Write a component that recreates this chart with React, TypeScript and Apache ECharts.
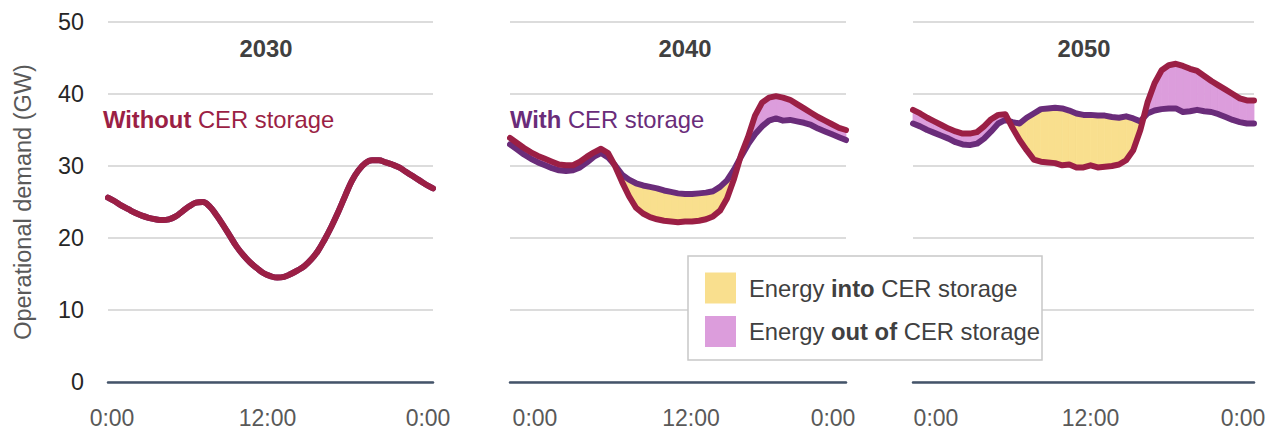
import React, { useEffect, useRef } from "react";
import * as echarts from "echarts";

const FONT = '"Liberation Sans", Arial, Helvetica, sans-serif';

// Half-hourly operational demand (GW), 0:00 .. 24:00
const without2030 = [
  25.6, 25.1, 24.5, 24.0, 23.5, 23.1, 22.8, 22.6, 22.5, 22.6, 23.0, 23.7, 24.4, 24.9, 25.0, 24.4,
  23.2, 21.8, 20.3, 18.8, 17.6, 16.6, 15.8, 15.1, 14.7, 14.5, 14.6, 15.0, 15.5, 16.1, 17.0, 18.2,
  19.8, 21.6, 23.6, 25.8, 27.9, 29.4, 30.4, 30.8, 30.8, 30.5, 30.2, 29.8, 29.2, 28.6, 28.0, 27.4, 26.9,
];
const with2030 = without2030;

const without2040 = [
  33.9, 33.2, 32.5, 31.9, 31.4, 31.0, 30.6, 30.2, 30.1, 30.1, 30.6, 31.3, 31.9, 32.4, 31.8, 30.0,
  27.8, 25.8, 24.2, 23.4, 22.9, 22.6, 22.4, 22.3, 22.2, 22.3, 22.3, 22.4, 22.6, 23.0, 23.8, 25.5,
  28.2, 31.5, 34.0, 37.0, 38.8, 39.5, 39.7, 39.5, 39.2, 38.6, 38.0, 37.4, 36.8, 36.3, 35.8, 35.3, 35.0,
];
const with2040 = [
  33.0, 32.3, 31.6, 31.0, 30.5, 30.1, 29.7, 29.4, 29.3, 29.4, 29.8, 30.5, 31.3, 31.8, 31.2, 30.1,
  28.8, 28.1, 27.6, 27.3, 27.1, 26.9, 26.6, 26.4, 26.2, 26.1, 26.1, 26.2, 26.3, 26.5, 27.1, 28.0,
  29.5, 31.3, 33.0, 34.4, 35.5, 36.3, 36.6, 36.3, 36.4, 36.2, 36.0, 35.7, 35.2, 34.8, 34.4, 34.0, 33.6,
];

const without2050 = [
  37.8, 37.3, 36.7, 36.2, 35.7, 35.2, 34.8, 34.5, 34.5, 34.7, 35.5, 36.5, 37.1, 37.2, 35.3, 33.6,
  32.2, 30.9, 30.6, 30.5, 30.4, 30.1, 30.2, 29.8, 29.8, 30.1, 29.8, 29.9, 30.0, 30.2, 30.8, 32.2,
  35.0, 38.8, 41.5, 43.3, 44.0, 44.2, 43.9, 43.5, 43.2, 42.5, 41.8, 41.2, 40.6, 40.0, 39.4, 39.1, 39.1,
];
const with2050 = [
  35.9, 35.5, 35.0, 34.6, 34.2, 33.8, 33.3, 33.0, 32.9, 33.1, 33.8, 34.8, 35.9, 36.4, 36.1, 35.9,
  36.7, 37.3, 37.9, 38.0, 38.1, 38.0, 37.7, 37.3, 37.1, 37.1, 37.0, 37.0, 36.8, 36.7, 36.9, 36.6,
  36.2, 37.3, 37.7, 37.9, 38.0, 38.0, 37.5, 37.6, 37.8, 37.6, 37.5, 37.2, 36.8, 36.4, 36.1, 35.9, 35.9,
];

const years = ["2030", "2040", "2050"];
const withoutSeries = [without2030, without2040, without2050];
const withSeries = [with2030, with2040, with2050];
const tickLabels = ["0:00", "12:00", "0:00"];
const yAxisName = "Operational demand (GW)";
const legendItems = ["Energy {b|into} CER storage", "Energy {b|out of} CER storage"];

const RED = "#9B1F45";
const PURPLE = "#6A2C7A";
const YELLOW = "#F9DF8E";
const PINK = "#DC9DDC";
const HOURS_PER_SLOT = 0.5;

const grids = [
  { left: 108, top: 22, width: 325, height: 360 },
  { left: 510, top: 22, width: 336, height: 360 },
  { left: 913, top: 22, width: 341, height: 360 },
];
const labelShift = [
  [4, -3, -5],
  [25, 13, -13],
  [23, 7, -11],
];

function pad(shift: number) {
  return shift >= 0 ? [0, 0, 0, 2 * shift] : [0, -2 * shift, 0, 0];
}

const TXT = 23.8;

export default function App() {
  const ref = useRef<HTMLDivElement>(null);
  useEffect(() => {
    if (!ref.current) return;
    const chart = echarts.init(ref.current, null, { renderer: "svg" });

    const xAxis = grids.map((_, i) => ({
      type: "value",
      gridIndex: i,
      min: 0,
      max: 24,
      interval: 12,
      axisLine: { show: true, onZero: false, lineStyle: { color: "#44546A", width: 2.5 } },
      axisTick: { show: false },
      splitLine: { show: false },
      axisLabel: {
        margin: 24,
        formatter: (v: number) => (v === 0 ? "{a|" + tickLabels[0] + "}" : v === 12 ? "{b|" + tickLabels[1] + "}" : "{c|" + tickLabels[2] + "}"),
        rich: {
          a: { fontSize: 23, fontFamily: FONT, color: "#595959", padding: pad(labelShift[i][0]) },
          b: { fontSize: 23, fontFamily: FONT, color: "#595959", padding: pad(labelShift[i][1]) },
          c: { fontSize: 23, fontFamily: FONT, color: "#595959", padding: pad(labelShift[i][2]) },
        },
      },
    }));

    const yAxis = grids.map((_, i) => ({
      type: "value",
      gridIndex: i,
      min: 0,
      max: 50,
      interval: 10,
      name: i === 0 ? yAxisName : "",
      nameLocation: "middle",
      nameGap: 73,
      nameTextStyle: { fontSize: 23.5, fontFamily: FONT, color: "#595959" },
      axisLine: { show: false },
      axisTick: { show: false },
      axisLabel: { show: i === 0, margin: 24, fontSize: 23.3, fontFamily: FONT, color: "#262626" },
      splitLine: { lineStyle: { color: "#D0D0D0", width: 1.5 } },
    }));

    const series: any[] = [];
    grids.forEach((_, i) => {
      const red = withoutSeries[i];
      const pur = withSeries[i];
      if (i > 0) {
        const segs = red.slice(0, -1).map((r, k) => [
          k * HOURS_PER_SLOT, r, pur[k],
          (k + 1) * HOURS_PER_SLOT, red[k + 1], pur[k + 1],
        ]);
        series.push({
          type: "custom",
          xAxisIndex: i,
          yAxisIndex: i,
          z: 1,
          encode: { x: [0, 3], y: [1, 2, 4, 5] },
          data: segs,
          renderItem: (params: any, api: any) => {
            const x0 = api.value(0), r0 = api.value(1), p0 = api.value(2);
            const x1 = api.value(3), r1 = api.value(4), p1 = api.value(5);
            const A = api.coord([x0, r0]);
            const B = api.coord([x1, r1]);
            const C = api.coord([x1, p1]);
            const D = api.coord([x0, p0]);
            const d0 = p0 - r0;
            const d1 = p1 - r1;
            const col = (d: number) => (d > 0 ? YELLOW : PINK);
            const poly = (pts: number[][], c: string) => ({
              type: "polygon",
              shape: { points: pts },
              style: { fill: c, stroke: c, lineWidth: 0.8 },
            });
            if (d0 * d1 >= 0) {
              return poly([A, B, C, D], col(d0 !== 0 ? d0 : d1));
            }
            const t = d0 / (d0 - d1);
            const X = [A[0] + (B[0] - A[0]) * t, A[1] + (B[1] - A[1]) * t];
            return {
              type: "group",
              children: [poly([A, X, D], col(d0)), poly([X, B, C], col(d1))],
            };
          },
        });
      }
      const smooth = i === 0 ? 0.4 : false;
      series.push({
        type: "line",
        xAxisIndex: i,
        yAxisIndex: i,
        z: 2,
        data: pur.map((v, k) => [k * HOURS_PER_SLOT, v]),
        showSymbol: false,
        symbol: "none",
        smooth,
        lineStyle: { color: PURPLE, width: 6, cap: "round", join: "round" },
      });
      series.push({
        type: "line",
        xAxisIndex: i,
        yAxisIndex: i,
        z: 3,
        data: red.map((v, k) => [k * HOURS_PER_SLOT, v]),
        showSymbol: false,
        symbol: "none",
        smooth,
        lineStyle: { color: RED, width: 6, cap: "round", join: "round" },
      });
    });

    const titleX = [266, 685, 1084];
    const graphic: any[] = [];
    years.forEach((y, i) => {
      graphic.push({
        type: "text",
        x: titleX[i],
        y: 48,
        z: 10,
        style: {
          text: y,
          fill: "#404040",
          fontSize: TXT,
          fontWeight: "bold",
          fontFamily: FONT,
          align: "center",
          verticalAlign: "middle",
        },
      });
    });
    graphic.push({
      type: "text",
      x: 103,
      y: 119,
      z: 10,
      style: {
        text: "{b|Without} CER storage",
        fill: RED,
        fontSize: TXT,
        fontFamily: FONT,
        verticalAlign: "middle",
        rich: { b: { fill: RED, fontSize: TXT, fontFamily: FONT, fontWeight: "bold" } },
      },
    });
    graphic.push({
      type: "text",
      x: 510,
      y: 119,
      z: 10,
      style: {
        text: "{b|With} CER storage",
        fill: PURPLE,
        fontSize: TXT,
        fontFamily: FONT,
        verticalAlign: "middle",
        rich: { b: { fill: PURPLE, fontSize: TXT, fontFamily: FONT, fontWeight: "bold" } },
      },
    });
    graphic.push({
      type: "rect",
      z: 10,
      shape: { x: 688, y: 256, width: 354, height: 104 },
      style: { fill: "#FFFFFF", stroke: "#C8C8C8", lineWidth: 1.5 },
    });
    const swatchColors = [YELLOW, PINK];
    const rowY = [288, 331.5];
    legendItems.forEach((t, k) => {
      graphic.push({
        type: "rect",
        z: 11,
        shape: { x: 705, y: rowY[k] - 15.5, width: 31, height: 31 },
        style: { fill: swatchColors[k] },
      });
      graphic.push({
        type: "text",
        x: 749,
        y: rowY[k],
        z: 11,
        style: {
          text: t,
          fill: "#404040",
          fontSize: TXT,
          fontFamily: FONT,
          verticalAlign: "middle",
          rich: { b: { fill: "#404040", fontSize: TXT, fontFamily: FONT, fontWeight: "bold" } },
        },
      });
    });

    chart.setOption({
      animation: false,
      backgroundColor: "#FFFFFF",
      textStyle: { fontFamily: FONT },
      grid: grids,
      xAxis,
      yAxis,
      series,
      graphic,
    });
    return () => chart.dispose();
  }, []);

  return (
    <div
      ref={ref}
      style={{ position: "fixed", left: 0, top: 0, width: 1279, height: 432, background: "#fff" }}
    />
  );
}
